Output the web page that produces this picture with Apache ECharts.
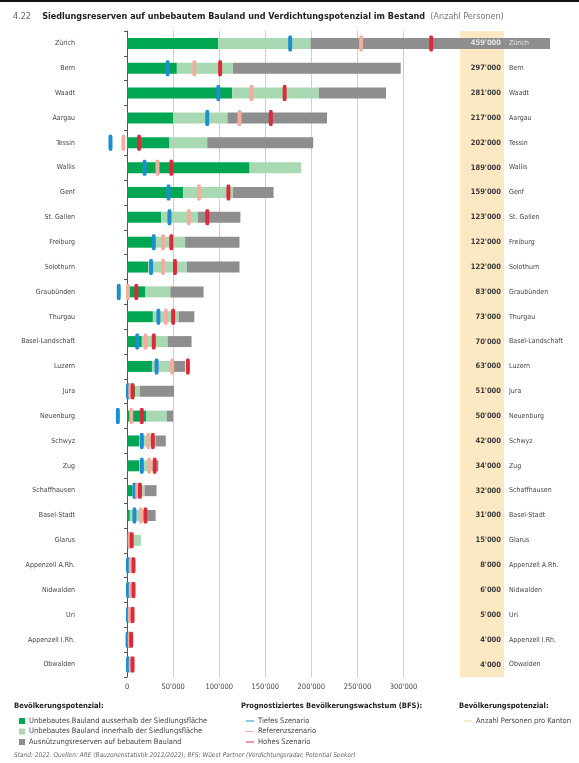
<!DOCTYPE html>
<html>
<head>
<meta charset="utf-8">
<script src="https://cdn.jsdelivr.net/npm/echarts@6/dist/echarts.min.js"></script>
<style>
html,body{margin:0;padding:0;background:#fff;}
#c{width:579px;height:763px;}
</style>
</head>
<body>
<div id="c"></div>
<script>
const cantons = ['Zürich','Bern','Waadt','Aargau','Tessin','Wallis','Genf','St. Gallen','Freiburg','Solothurn','Graubünden','Thurgau','Basel-Landschaft','Luzern','Jura','Neuenburg','Schwyz','Zug','Schaffhausen','Basel-Stadt','Glarus','Appenzell A.Rh.','Nidwalden','Uri','Appenzell I.Rh.','Obwalden'];
const outside = [99000,54000,114000,50000,46000,133000,61000,37000,30000,23000,20000,28000,16000,27000,9000,21000,13000,13000,6000,3000,3000,2000,2000,1000,1000,1000];
const inside = [100000,61000,94000,59000,41000,56000,54000,40000,33000,42000,27000,28000,28000,20000,5000,22000,18000,18000,13000,19000,12000,2000,2000,2000,1000,1000];
const built = [260000,182000,73000,108000,115000,0,44000,46000,59000,57000,36000,17000,26000,16000,37000,7000,11000,3000,13000,9000,0,4000,2000,2000,2000,2000];
const totals = [459000,297000,281000,217000,202000,189000,159000,123000,122000,122000,83000,73000,70000,63000,51000,50000,42000,34000,32000,31000,15000,8000,6000,5000,4000,4000];
const lowScen = [177000,44000,99000,87000,-18000,19000,45000,46000,29000,26000,-9000,34000,11000,32000,1000,-10000,16000,16000,8000,8000,2000,1000,1000,1000,500,1000];
const refScen = [254000,73000,135000,122000,-4000,33000,78000,67000,39000,39000,1000,42000,20000,49000,3500,4500,23000,24000,11000,15000,3000,4000,4000,3000,3000,4000];
const highScen = [330000,101000,171000,156000,13000,48000,110000,87000,48000,52000,10000,50000,29000,66000,6000,16000,28000,30000,14000,20000,5000,7000,7000,6000,4500,6000];
const xTicks = [0,50000,100000,150000,200000,250000,300000];

const FONT = "'Liberation Sans Narrow','DejaVu Sans Condensed','Roboto',sans-serif";
const fmt = v => String(v).replace(/\B(?=(\d{3})+(?!\d))/g, "'");

const C = {dark:'#00a651', light:'#a9d9b3', gray:'#8e8e8e', blue:'#1b8fd2', pink:'#f3ad9c', red:'#db2b3a', yellow:'#fce8c3'};

const chart = echarts.init(document.getElementById('c'), null, {renderer:'canvas'});

const gridLeft = 81, gridRight = 579 - 403.5, gridTop = 31, gridBottom = 763 - 677;

function barSeries(name, data, color){
  return {name, type:'bar', stack:'pot', data, barWidth:11, clip:false,
    itemStyle:{color}, emphasis:{disabled:true}, z:2, silent:true};
}
function scen(name, data, color){
  return {name, type:'scatter', data: data.map((v,i)=>[v, cantons[i]]),
    symbol:'roundRect', symbolSize:[4,16], itemStyle:{color, opacity:1},
    z:5, silent:true, clip:false};
}

const option = {
  animation:false,
  backgroundColor:'#fff',
  textStyle:{fontFamily:FONT},
  title:{
    left:8, top:3,
    text:"{n|4.22} {b|Siedlungsreserven auf unbebautem Bauland und Verdichtungspotenzial im Bestand} {g|(Anzahl Personen)}",
    textStyle:{fontWeight:'normal', rich:{
      n:{fontFamily:FONT, fontSize:9, fontWeight:'normal', color:'#666', padding:[0,6,0,0]},
      b:{fontFamily:FONT, fontSize:9, fontWeight:'bold', color:'#222'},
      g:{fontFamily:FONT, fontSize:9, fontWeight:'normal', color:'#777'}
    }}
  },
  grid:{left:gridLeft, right:gridRight, top:gridTop, bottom:gridBottom, containLabel:false},
  xAxis:{
    type:'value', min:-50000, max:300000, interval:50000,
    axisLine:{show:false}, axisTick:{show:false},
    splitLine:{show:true, lineStyle:{width:1, color:['rgba(0,0,0,0)','#555','#cfcfcf','#cfcfcf','#cfcfcf','#cfcfcf','#cfcfcf','#cfcfcf']}},
    axisLabel:{fontFamily:FONT, fontSize:7.5, color:'#444', margin:6,
      formatter: v => xTicks.indexOf(v) >= 0 ? fmt(v) : ''}
  },
  yAxis:[
    {type:'category', data:cantons, inverse:true,
     axisLine:{show:true, lineStyle:{color:'#555', width:1}},
     axisTick:{show:true, length:3, lineStyle:{color:'#555'}},
     axisLabel:{fontFamily:FONT, fontSize:7, color:'#444', margin:6}},
    {type:'category', data:totals.map(fmt), inverse:true, position:'right', z:10,
     axisLine:{show:false}, axisTick:{show:false},
     axisLabel:{fontFamily:FONT, fontSize:7.5, fontWeight:'bold', align:'right', margin:97.5,
       color:(v,i)=> i===0 ? '#e6e6e6' : '#3a3a3a'}},
    {type:'category', data:cantons, inverse:true, position:'right', z:10,
     axisLine:{show:false}, axisTick:{show:false},
     axisLabel:{fontFamily:FONT, fontSize:7, align:'left', margin:105.5,
       color:(v,i)=> i===0 ? '#e6e6e6' : '#444'}}
  ],
  legend:[
    {left:14, top:712, orient:'vertical', selectedMode:false, itemWidth:6, itemHeight:6, itemGap:2.5,
     icon:'rect', textStyle:{fontFamily:FONT, fontSize:7.5, color:'#444', padding:[0,0,0,-1]},
     data:['Unbebautes Bauland ausserhalb der Siedlungsfläche','Unbebautes Bauland innerhalb der Siedlungsfläche','Ausnützungsreserven auf bebautem Bauland']},
    {left:241, top:712, orient:'vertical', selectedMode:false, itemWidth:8, itemHeight:6, itemGap:2.5,
     textStyle:{fontFamily:FONT, fontSize:7.5, color:'#444', padding:[0,0,0,-1]},
     data:[{name:'Tiefes Szenario', icon:'path://M0,2.5H10V3.7H0Z'},
           {name:'Referenzszenario', icon:'path://M0,2.5H10V3.7H0Z'},
           {name:'Hohes Szenario', icon:'path://M0,2.5H10V3.7H0Z'}]},
    {left:459, top:712, orient:'vertical', selectedMode:false, itemWidth:8, itemHeight:6,
     textStyle:{fontFamily:FONT, fontSize:7.5, color:'#444', padding:[0,0,0,-1]},
     data:[{name:'Anzahl Personen pro Kanton', icon:'path://M0,2.5H10V3.7H0Z'}]}
  ],
  graphic:[
    {type:'rect', left:0, top:0, z:-5, shape:{width:579, height:2}, style:{fill:'#111'}},
    {type:'rect', left:460, top:31, z:-10, silent:true, shape:{width:44, height:646}, style:{fill:C.yellow}},
    {type:'text', left:14, top:702, style:{text:'Bevölkerungspotenzial:', font:"bold 7.5px "+FONT, fill:'#222'}},
    {type:'text', left:241, top:702, style:{text:'Prognostiziertes Bevölkerungswachstum (BFS):', font:"bold 7.5px "+FONT, fill:'#222'}},
    {type:'text', left:459, top:702, style:{text:'Bevölkerungspotenzial:', font:"bold 7.5px "+FONT, fill:'#222'}},
    {type:'text', left:14, top:752, style:{text:'Stand: 2022. Quellen: ARE (Bauzonenstatistik 2012/2022); BFS; Wüest Partner (Verdichtungsradar, Potential Seeker)', font:"italic 6.5px "+FONT, fill:'#666'}}
  ],
  series:[
    barSeries('Unbebautes Bauland ausserhalb der Siedlungsfläche', outside, C.dark),
    barSeries('Unbebautes Bauland innerhalb der Siedlungsfläche', inside, C.light),
    barSeries('Ausnützungsreserven auf bebautem Bauland', built, C.gray),
    scen('Tiefes Szenario', lowScen, C.blue),
    scen('Referenzszenario', refScen, C.pink),
    scen('Hohes Szenario', highScen, C.red),
    {name:'Anzahl Personen pro Kanton', type:'line', data:[], itemStyle:{color:'#f5d98a'}, lineStyle:{color:'#f5d98a'}}
  ]
};
chart.setOption(option);
</script>
</body>
</html>
